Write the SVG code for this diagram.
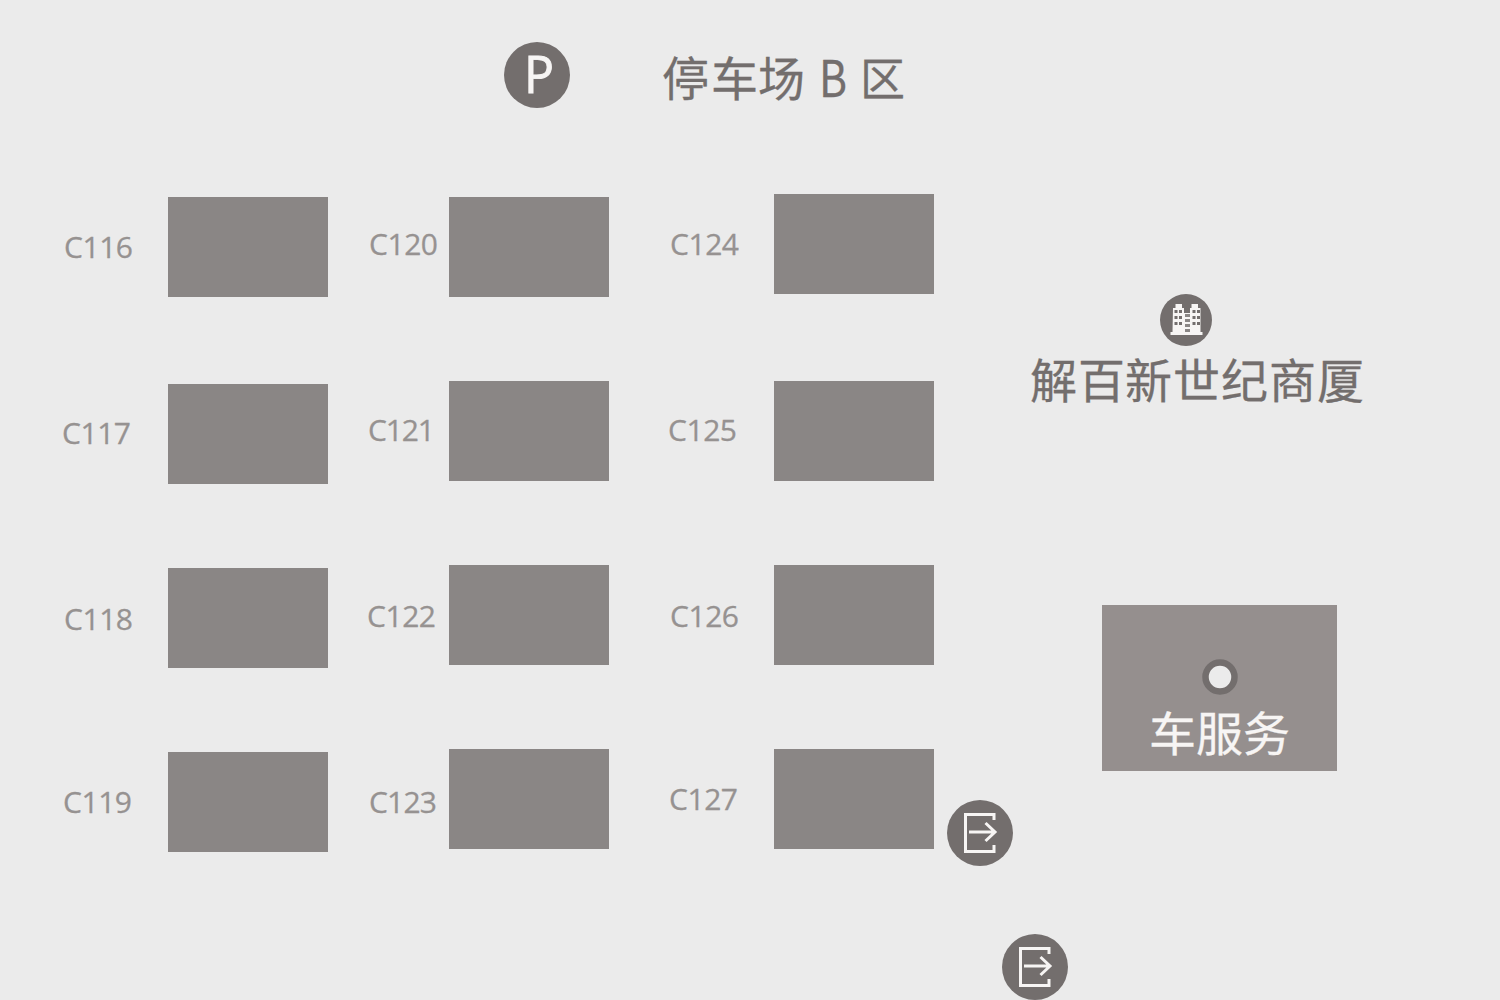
<svg xmlns="http://www.w3.org/2000/svg" width="1500" height="1000" viewBox="0 0 1500 1000">
<style>
.b{fill:#8a8685}
.l{font:30px "Open Sans",sans-serif;fill:#969291;stroke:#969291;stroke-width:.3}
.c{fill:#736e6d}
.t{font:47px "Noto Sans CJK SC",sans-serif;fill:#736e6d;stroke:#736e6d;stroke-width:.3}
.s{fill:#f7f5f4;stroke:#f7f5f4}
.w{fill:none;stroke:#f7f5f4;stroke-width:3}
</style>
<defs>
<g id="exit"><path class="w" d="M19 -13V-18.500H-9.500V18.500H19V12"/><path class="w" d="M-6 -1H20M10.500 -10L20 -1L10.500 8"/></g>
</defs>
<rect width="1500" height="1000" fill="#ebebeb"/>
<g id="parking-sign"><circle class="c" cx="537" cy="75" r="33"/><text x="524" y="93" textLength="30" lengthAdjust="spacingAndGlyphs" style="font:51px 'Open Sans',sans-serif;fill:#f7f5f4;stroke:#f7f5f4;stroke-width:.9">P</text></g>
<g id="title"><text class="t" y="96" x="662 711 758">停车场</text><text class="t" x="819" y="97" textLength="28" lengthAdjust="spacingAndGlyphs" style="font-size:50px">B</text><text class="t" x="860" y="96" style="font-size:45px">区</text></g>
<g id="C116"><rect class="b" x="168" y="197" width="160" height="100"/><text class="l" x="64" y="258" textLength="69">C116</text></g>
<g id="C117"><rect class="b" x="168" y="384" width="160" height="100"/><text class="l" x="62" y="444" textLength="69">C117</text></g>
<g id="C118"><rect class="b" x="168" y="568" width="160" height="100"/><text class="l" x="64" y="630" textLength="69">C118</text></g>
<g id="C119"><rect class="b" x="168" y="752" width="160" height="100"/><text class="l" x="63" y="813" textLength="69">C119</text></g>
<g id="C120"><rect class="b" x="449" y="197" width="160" height="100"/><text class="l" x="369" y="255" textLength="69">C120</text></g>
<g id="C121"><rect class="b" x="449" y="381" width="160" height="100"/><text class="l" x="368" y="441" textLength="67">C121</text></g>
<g id="C122"><rect class="b" x="449" y="565" width="160" height="100"/><text class="l" x="367" y="627" textLength="69">C122</text></g>
<g id="C123"><rect class="b" x="449" y="749" width="160" height="100"/><text class="l" x="369" y="813" textLength="68">C123</text></g>
<g id="C124"><rect class="b" x="774" y="194" width="160" height="100"/><text class="l" x="670" y="255" textLength="69">C124</text></g>
<g id="C125"><rect class="b" x="774" y="381" width="160" height="100"/><text class="l" x="668" y="441" textLength="69">C125</text></g>
<g id="C126"><rect class="b" x="774" y="565" width="160" height="100"/><text class="l" x="670" y="627" textLength="69">C126</text></g>
<g id="C127"><rect class="b" x="774" y="749" width="160" height="100"/><text class="l" x="669" y="810" textLength="69">C127</text></g>
<g id="building"><circle class="c" cx="1186" cy="320" r="26"/>
<path fill="#f7f5f4" d="M1173 308h2.500v-4h6.500v4h2v5h6v-5h1.500v-4h6.500v4h2.500v24h2v3h-32v-3h2z"/>
<path fill="#736e6d" d="M1174.500 310h3v3h-3zM1179 310h3v3h-3zM1174.500 316h3v3h-3zM1179 316h3v3h-3zM1174.500 322h3v3h-3zM1179 322h3v3h-3zM1192.500 310h3v3h-3zM1197 310h3v3h-3zM1192.500 316h3v3h-3zM1197 316h3v3h-3zM1192.500 322h3v3h-3zM1197 322h3v3h-3z"/>
<path fill="#8a8685" d="M1185 314h5v3h-5zM1185 319h5v3h-5zM1185 324h5v3h-5zM1185 329h5v3h-5z"/>
<text class="t" x="1030 1078 1125 1173 1221 1269 1317" y="398">解百新世纪商厦</text></g>
<g id="car-service"><rect x="1102" y="605" width="235" height="166" fill="#958f8e"/><circle cx="1220" cy="677" r="14.500" fill="#ebebeb" stroke="#736e6d" stroke-width="6.500"/><text class="t s" x="1149 1196 1243" y="751">车服务</text></g>
<g id="exit-1"><circle class="c" cx="980" cy="833" r="33"/><use href="#exit" transform="translate(975 833)"/></g>
<g id="exit-2"><circle class="c" cx="1035" cy="967" r="33"/><use href="#exit" transform="translate(1030 967)"/></g>
<g id="connectors"></g>
</svg>
